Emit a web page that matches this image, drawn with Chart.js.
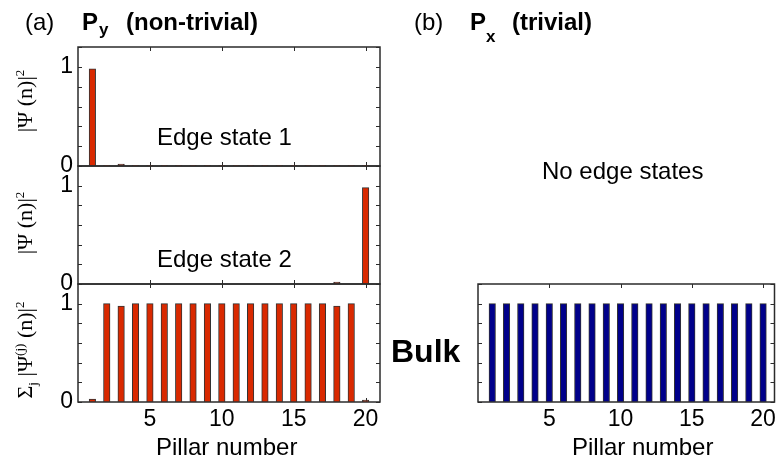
<!DOCTYPE html>
<html>
<head>
<meta charset="utf-8">
<script src="https://cdn.jsdelivr.net/npm/chart.js@4.4.0/dist/chart.umd.min.js"></script>
<style>
  body { margin: 0; background: #fff; }
  #wrap { position: relative; width: 780px; height: 457px; overflow: hidden;
          font-family: "Liberation Sans", Arial, sans-serif; color: #000; }
  canvas { position: absolute; left: 0; top: 0; }
  .t { position: absolute; line-height: 1; white-space: nowrap; }
  .b { font-weight: bold; }
  .ylab { position: absolute; white-space: nowrap; line-height: 1;
          font-family: "Liberation Serif", "DejaVu Serif", serif; font-size: 22px;
          transform: translate(-50%, -50%) rotate(-90deg); }
  .ylab sup, .ylab sub { font-size: 13px; line-height: 0; }
</style>
</head>
<body>
<div id="wrap">
  <canvas id="c1" width="780" height="457"></canvas>
  <canvas id="c2" width="780" height="457"></canvas>
  <canvas id="c3" width="780" height="457"></canvas>
  <canvas id="c4" width="780" height="457"></canvas>

  <div class="t" style="left:25px;top:10px;font-size:24px">(a)</div>
  <div class="t b" style="left:82px;top:10px;font-size:24px">P</div>
  <div class="t b" style="left:99px;top:21px;font-size:17px">y</div>
  <div class="t b" style="left:126px;top:10px;font-size:24px">(non-trivial)</div>

  <div class="t" style="left:414px;top:10px;font-size:24px">(b)</div>
  <div class="t b" style="left:470px;top:10px;font-size:24px">P</div>
  <div class="t b" style="left:486px;top:28px;font-size:17px">x</div>
  <div class="t b" style="left:512px;top:10px;font-size:24px">(trivial)</div>

  <div class="t" style="left:157px;top:125px;font-size:24px">Edge state 1</div>
  <div class="t" style="left:157px;top:247px;font-size:24px">Edge state 2</div>
  <div class="t" style="left:542px;top:159px;font-size:24px">No edge states</div>
  <div class="t b" style="left:391px;top:335px;font-size:32px">Bulk</div>
  <div class="t" style="left:156px;top:435px;font-size:24px">Pillar number</div>
  <div class="t" style="left:572px;top:435px;font-size:24px">Pillar number</div>

  <div class="ylab" style="left:25px;top:101px">|&Psi; (n)|<sup>2</sup></div>
  <div class="ylab" style="left:25px;top:223px">|&Psi; (n)|<sup>2</sup></div>
  <div class="ylab" style="left:25px;top:350px">&Sigma;<sub>j</sub> |&Psi;<sup>(j)</sup> (n)|<sup>2</sup></div>
</div>
<script>
const pillars = [1, 2, 3, 4, 5, 6, 7, 8, 9, 10, 11, 12, 13, 14, 15, 16, 17, 18, 19, 20];
const edgeState1 = [0.98, 0.004, 0.02, 0.003, 0.004, 0.003, 0.004, 0.003, 0.004, 0.003,
                    0.004, 0.003, 0.004, 0.003, 0.004, 0.003, 0.004, 0.003, 0.004, 0.003];
const edgeState2 = [0, 0, 0, 0, 0, 0, 0, 0, 0, 0,
                    0, 0, 0, 0, 0, 0, 0, 0.02, 0, 0.98];
const bulkNonTrivial = [0.03, 1.0, 0.975, 1.0, 1.0, 1.0, 1.0, 1.0, 1.0, 1.0,
                        1.0, 1.0, 1.0, 1.0, 1.0, 1.0, 1.0, 0.975, 1.0, 0.02];
const bulkTrivial = [1.0, 1.0, 1.0, 1.0, 1.0, 1.0, 1.0, 1.0, 1.0, 1.0,
                     1.0, 1.0, 1.0, 1.0, 1.0, 1.0, 1.0, 1.0, 1.0, 1.0];
const yTicks = [0, 0.2, 0.4, 0.6, 0.8, 1.0, 1.2];
const yTickLabels = [0, 1];
const xTicks = [5, 10, 15, 20];

Chart.defaults.font.family = '"Liberation Sans", Arial, sans-serif';
Chart.defaults.color = '#000';

// box with inward ticks on all four sides, drawn under the bars
const framePlugin = {
  id: 'frame',
  beforeDatasetsDraw(chart) {
    const { ctx, chartArea: a, scales: { x, y } } = chart;
    ctx.save();
    ctx.strokeStyle = '#2b2b2b';
    ctx.lineWidth = 1.5;
    ctx.strokeRect(a.left, a.top, a.right - a.left, a.bottom - a.top);
    ctx.beginPath();
    yTicks.forEach(v => {
      const py = Math.round(y.getPixelForValue(v)) + 0.5;
      ctx.moveTo(a.left, py); ctx.lineTo(a.left + 4, py);
      ctx.moveTo(a.right, py); ctx.lineTo(a.right - 4, py);
    });
    xTicks.forEach(v => {
      const px = Math.round(x.getPixelForValue(v)) + 0.5;
      ctx.moveTo(px, a.top); ctx.lineTo(px, a.top + 4);
      ctx.moveTo(px, a.bottom); ctx.lineTo(px, a.bottom - 4);
    });
    ctx.lineWidth = 1;
    ctx.stroke();
    ctx.restore();
  }
};

function makePanel(id, values, color, box) {
  return new Chart(document.getElementById(id), {
    type: 'bar',
    data: {
      datasets: [{
        data: pillars.map((p, i) => ({ x: p, y: values[i] })),
        backgroundColor: color,
        borderColor: '#333',
        borderWidth: 1,
        borderSkipped: false,
        barThickness: 6.5
      }]
    },
    options: {
      responsive: false,
      animation: false,
      layout: {
        padding: {
          left: 0,
          top: box.top,
          right: 780 - box.right,
          bottom: box.showX ? 0 : 457 - box.bottom
        }
      },
      plugins: { legend: { display: false }, tooltip: { enabled: false } },
      scales: {
        x: {
          type: 'linear',
          min: 0,
          max: box.xmax,
          offset: false,
          display: box.showX,
          grid: { display: false, drawTicks: false },
          border: { display: false },
          afterBuildTicks: s => { s.ticks = xTicks.map(value => ({ value })); },
          afterFit: s => { s.height = box.showX ? 457 - box.bottom : 0; },
          ticks: {
            autoSkip: false,
            maxRotation: 0,
            padding: 4,
            font: { size: 23 },
            callback: v => String(v)
          }
        },
        y: {
          min: 0,
          max: 1.2,
          grid: { display: false, drawTicks: false },
          border: { display: false },
          afterBuildTicks: s => { s.ticks = yTicks.map(value => ({ value })); },
          afterFit: s => { s.width = box.left; },
          ticks: {
            autoSkip: false,
            padding: 5,
            font: { size: 23 },
            callback: v => (box.yLabels && yTickLabels.includes(v)) ? String(v) : ''
          }
        }
      }
    },
    plugins: [framePlugin]
  });
}

const red = '#d92900';
const blue = '#00008a';

makePanel('c1', edgeState1, red,
  { left: 78, right: 380, top: 47, bottom: 166, xmax: 21, showX: false, yLabels: true });
makePanel('c2', edgeState2, red,
  { left: 78, right: 380, top: 166, bottom: 284, xmax: 21, showX: false, yLabels: true });
makePanel('c3', bulkNonTrivial, red,
  { left: 78, right: 380, top: 284, bottom: 402, xmax: 21, showX: true, yLabels: true });
makePanel('c4', bulkTrivial, blue,
  { left: 478, right: 777, top: 284, bottom: 402, xmax: 20.8, showX: true, yLabels: false });
</script>
</body>
</html>
